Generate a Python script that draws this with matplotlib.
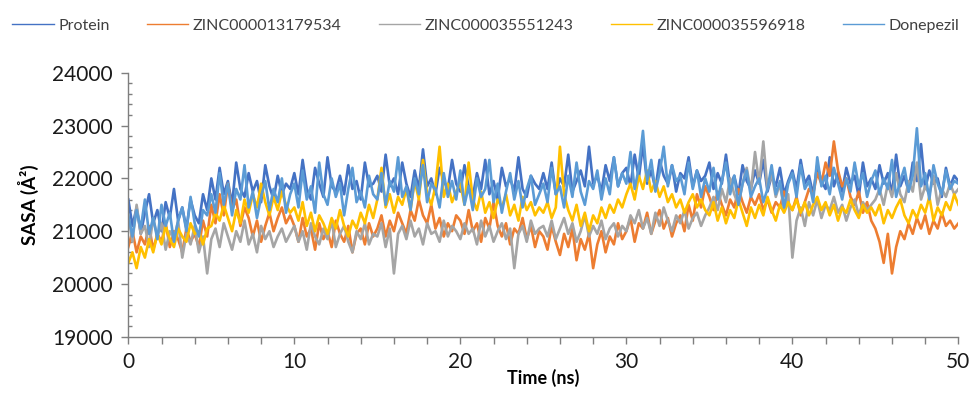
import numpy as np
import matplotlib
matplotlib.use('Agg')
from matplotlib import pyplot as plt
from matplotlib.ticker import MultipleLocator

plt.rcParams['font.family'] = ['Lato', 'DejaVu Sans']

# SASA (A^2) every 0.25 ns
protein = [
    21600, 21100, 21450, 20950, 21350, 21700, 21150, 21400, 21000, 21550, 21250, 21800, 21200, 21450, 21050, 21600, 21300, 21150, 21700, 21400,
    22000, 21600, 22200, 21700, 21950, 21500, 22300, 21800, 21650, 22100, 21750, 21950, 21550, 22250, 21850, 21600, 22050, 21700, 21900, 21800,
    22100, 21700, 22350, 21800, 21600, 22200, 21900, 21650, 22400, 21850, 21750, 22050, 21700, 22250, 21800, 21950, 21600, 22300, 21850, 21900,
    22050, 21750, 22450, 21850, 22000, 21700, 22300, 21900, 21650, 22150, 21800, 22550, 21850, 22000, 21700, 22200, 21950, 21800, 22350, 21900,
    21750, 22250, 21850, 21650, 22100, 21800, 22350, 21700, 21950, 21600, 22200, 21850, 22000, 21750, 22400, 21800, 21650, 22050, 21900, 21800,
    22100, 21800, 22300, 21700, 22000, 21850, 22450, 21750, 21950, 22150, 21850, 22600, 21900, 22050, 21750, 22250, 21950, 22400, 21850, 22100,
    22200, 21850, 22450, 22000, 22650, 21900, 22150, 21800, 22350, 22050, 21900, 22250, 21750, 22100, 22000, 22400, 21850, 22150, 21950, 22050,
    22300, 21800, 22100, 21900, 22450, 21850, 22050, 21700, 22250, 21950, 21800, 22150, 21900, 22350, 21750, 22050, 21850, 22200, 21700, 21950,
    22150, 21800, 22350, 21900, 22050, 21700, 22250, 21950, 21800, 22400, 21850, 22100, 21750, 22200, 21900, 22050, 21650, 22300, 21850, 22000,
    21800, 22250, 21900, 22100, 21700, 22450, 21850, 22050, 21750, 22300, 21950, 22650, 21800, 22150, 21900, 22000, 21650, 22200, 21850, 22050,
    21950]
zinc_13179534 = [
    20700, 21000, 20600, 20900, 20750, 21100, 20650, 20950, 20800, 21150, 20700, 21000, 20850, 20600, 21050, 20800, 20950, 20700, 21200, 20900,
    21500, 21150, 21700, 21300, 21900, 21400, 21600, 21100, 21450, 21250, 20900, 21200, 20800, 21100, 21350, 21000, 21250, 21450, 21150, 21300,
    21100, 20800, 21250, 20900, 21050, 20650, 21150, 20850, 21000, 20700, 21200, 20950, 20800, 21100, 20600, 20950, 21050, 20750, 21150, 20900,
    21050, 21300, 20900, 21200, 21000, 21350, 21150, 20950, 21400, 21200, 21600, 21300, 21150, 21500, 21050, 21250, 20900, 21150, 21000, 21300,
    21200, 20950, 21400, 21000, 21150, 20800, 21250, 21050, 21550, 21100, 20900, 21150, 20750, 21050, 20950, 21250, 20850, 21100, 20700, 21000,
    20900, 20650, 21100, 20800, 20550, 20950, 20700, 21050, 20450, 20850, 20650, 20950, 20300, 20750, 21000, 20600, 20900, 20750, 21150, 20850,
    21000, 21250, 20800, 21150, 21050, 21350, 20950, 21200, 21400, 21050, 21250, 20900, 21150, 21300, 21000, 21500, 21200, 21700, 21450, 21850,
    21650, 21400, 21750, 21500, 21300, 21600, 21450, 21800, 21550, 21350, 21650, 21500, 21700, 21400, 21600, 21350, 21550, 21450, 21750, 21500,
    21400, 21650, 21300, 21550, 21800, 21700, 22100, 21900, 22300, 22050, 22700, 22150, 21850, 22000, 21650, 21500, 21750, 21350, 21550, 21200,
    21050, 20800, 20400, 20950, 20200, 20700, 21000, 20850, 21150, 20950, 21250, 21050, 21300, 20950, 21200, 21050, 21350, 21100, 21200, 21050,
    21150]
zinc_35551243 = [
    21300, 20800, 21500, 20950, 21100, 20700, 21250, 20900, 21150, 20650, 21000, 20850, 21200, 20500, 20950, 20750, 21100, 20600, 20900, 20200,
    20850, 21050, 20700, 21150, 20900, 20650, 21000, 20800, 21200, 20750, 20950, 20600, 21100, 20850, 21000, 20700, 20900, 21050, 20800, 20950,
    21100, 20800, 21000, 20650, 21150, 20900, 20750, 21050, 20850, 21200, 20700, 20950, 21100, 20800, 20600, 21000, 20850, 21150, 20750, 20950,
    20900, 21150, 20700, 21050, 20200, 20950, 21100, 20850, 21200, 20900, 21050, 20750, 21150, 20950, 21000, 20800, 21200, 20900, 21100, 21000,
    20850, 21150, 20950, 21050, 20750, 21200, 20900, 21100, 20800, 21000, 21150, 20850, 21050, 20300, 20950, 21100, 20800, 21200, 20950, 21050,
    21100, 20900, 21200, 20850, 21050, 21250, 20950, 21150, 20800, 21000, 21300, 20900, 21100, 20950, 21200, 20850, 21050, 21150, 20900, 21100,
    21000, 21300, 21150, 21400, 21050, 21250, 20950, 21350, 21100, 21450, 21200, 21000, 21300, 21150, 21400, 21050, 21250, 21350, 21100, 21300,
    21450, 21650, 21400, 21800, 21550, 22000, 21700, 21500, 21900, 22200, 21750, 22500, 21900, 22700, 21800, 22100, 21650, 21900, 21400, 21700,
    20500, 21200, 21450, 21100, 21550, 21300, 21600, 21250, 21500, 21400, 21650, 21350, 21500, 21200, 21450, 21600, 21300, 21550, 21400, 21500,
    21600, 21800, 21500, 21900, 21650, 22100, 21700, 21550, 21950, 21750, 22300, 21600, 21850, 21700, 22050, 21500, 21800, 21650, 21900, 21700,
    21800]
zinc_35596918 = [
    20400, 20600, 20300, 20700, 20500, 20850, 20600, 20950, 20750, 21100, 20850, 20700, 21050, 20900, 20800, 21150, 20950, 21000, 20750, 21050,
    21100, 21350, 21200, 21500, 21250, 21000, 21400, 21150, 21600, 21350, 21700, 21450, 21900, 21550, 21300, 21650, 21400, 21750, 21500, 21350,
    21450, 21200, 21550, 21100, 21350, 21000, 21300, 21150, 20950, 21250, 21050, 21400, 21100, 20900, 21200, 21050, 21350, 21150, 21500, 21250,
    21600, 22200, 21450, 21700, 21350, 21650, 21500, 21800, 21400, 21950, 21600, 22350, 21700, 21500, 21850, 22600, 21650, 21900, 21550, 21750,
    21900, 21500, 22300, 21600, 21400, 21750, 21350, 21550, 21250, 21600, 21450, 21700, 21300, 21500, 21200, 21650, 21400, 21550, 21300, 21450,
    21350, 21550, 21250, 21450, 22600, 21700, 21400, 21200, 21500, 21100, 21350, 21000, 21300, 21150, 21450, 21250, 21500, 21350, 21600, 21450,
    21700, 21900, 21600, 22050, 21800, 22150, 21750, 21950, 21650, 21850, 21550, 21700, 21450, 21600, 21350, 21550, 21700, 21450, 21600, 21400,
    21300, 21550, 21200, 21450, 21150, 21400, 21250, 21600, 21350, 21100, 21450, 21250, 21500, 21300, 21650, 21400, 21200, 21500, 21350, 21550,
    21400, 21600, 21350, 21550, 21300, 21500, 21650, 21400, 21550, 21300, 21500, 21200, 21450, 21350, 21600, 21400, 21250, 21500, 21350, 21450,
    21300, 21500, 21150, 21400, 21250, 21450, 21600, 21300, 21150, 21400, 21250, 21500, 21350, 21650, 21200, 21450, 21300, 21550, 21400, 21700,
    21500]
donepezil = [
    21300, 20900, 21400, 21050, 21600, 20950, 21250, 20850, 21500, 21100, 21350, 20800, 21200, 21450, 21000, 21650, 21150, 20900, 21400, 21300,
    21700, 21350, 22100, 21500, 21900, 21300, 21800, 21600, 22250, 21450, 21750, 21250, 21650, 21950, 21400, 21800, 21550, 22000, 21350, 21700,
    21900, 21450, 22150, 21600, 21850, 21350, 22300, 21700, 21500, 22000, 21650, 21900, 21300, 21800, 22200, 21550, 21750, 21450, 22050, 21700,
    21600, 22100, 21500, 21950, 21750, 22400, 21650, 21850, 21400, 22000, 21700, 22250, 21550, 21900, 21800, 21450, 22100, 21650, 21950, 21600,
    22150, 21500, 21850, 21400, 22000, 21650, 21800, 22350, 21550, 21900, 21350, 21750, 22100, 21600, 21950, 21450, 21800, 22050, 21500, 21700,
    21900, 21550, 22200, 21700, 21850, 21450, 22050, 21650, 22300, 21750, 21500, 21950, 21800, 22150, 21600, 22000, 21700, 22400, 21850, 22100,
    21900, 22500, 21800, 22200, 22900, 21950, 22350, 21750, 22100, 22600, 21850, 22250, 21950, 22050, 21700, 22300, 21800, 22150, 21650, 22000,
    21750, 22200, 21600, 21950, 22300, 21700, 22050, 21500, 21900, 22150, 21650, 21850, 22000, 21550, 21800, 22250, 21700, 21950, 21450, 21900,
    22100, 21650, 22250, 21800, 21950, 21550, 22400, 21850, 22050, 21700, 22200, 21900, 21600, 22000, 21750, 22300, 21850, 22100, 21650, 21950,
    22150, 21700, 22000, 21800, 22350, 21650, 21950, 22200, 21750, 22050, 22950, 21850, 22100, 21600, 22250, 21900, 21700, 22150, 21800, 21950,
    21900]

time_ns = np.linspace(0, 50, len(donepezil))

fig = plt.figure(figsize=(9.72, 4.0), dpi=100)
ax = fig.add_axes([0.132, 0.158, 0.854, 0.66])

lw = 1.9
ax.plot(time_ns, protein, c='#4472C4', linewidth=lw, label='Protein')
ax.plot(time_ns, zinc_13179534, c='#ED7D31', linewidth=lw, label='ZINC000013179534')
ax.plot(time_ns, zinc_35551243, c='#A5A5A5', linewidth=lw, label='ZINC000035551243')
ax.plot(time_ns, zinc_35596918, c='#FFC000', linewidth=lw, label='ZINC000035596918')
ax.plot(time_ns, donepezil, c='#5B9BD5', linewidth=lw, label='Donepezil')

ax.set_xlim(0, 50)
ax.set_ylim(19000, 24000)
ax.xaxis.set_major_locator(MultipleLocator(10))
ax.xaxis.set_minor_locator(MultipleLocator(2))
ax.yaxis.set_major_locator(MultipleLocator(1000))
ax.yaxis.set_minor_locator(MultipleLocator(200))

for s in ['top', 'right']:
    ax.spines[s].set_visible(False)
for s in ['left', 'bottom']:
    ax.spines[s].set_color('#7f7f7f')
    ax.spines[s].set_linewidth(1.0)
ax.tick_params(axis='both', which='both', color='#7f7f7f', width=1.0)
ax.tick_params(axis='both', which='major', direction='out', length=5, labelsize=15, labelcolor='#1a1a1a', pad=6)
ax.tick_params(axis='x', which='minor', direction='out', length=5)
ax.tick_params(axis='y', which='minor', direction='in', length=3)

ax.set_xlabel('Time (ns)', fontsize=13, fontweight='bold', labelpad=-2)
ax.set_ylabel('SASA (Å²)', fontsize=13.5, fontweight='bold', labelpad=10)

leg = fig.legend(loc='upper center', bbox_to_anchor=(0.5, 0.99), ncol=5, frameon=False,
                 fontsize=11.5, handlelength=2.6, handletextpad=0.3, columnspacing=2.3,
                 labelcolor='#404040')
for line in leg.get_lines():
    line.set_linewidth(1.0)

fig.savefig('out.png', dpi=100)
